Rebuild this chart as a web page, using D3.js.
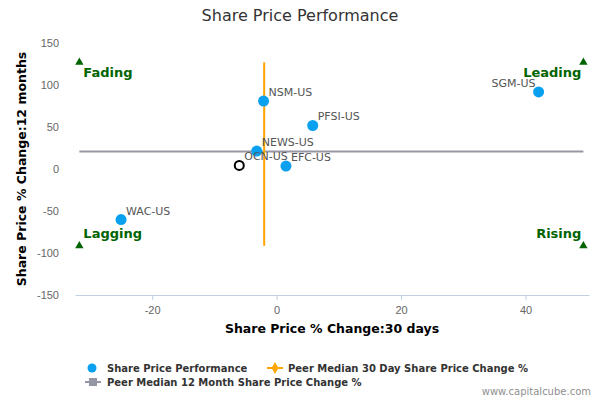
<!DOCTYPE html>
<html lang="en">
<head>
    <meta charset="UTF-8">
    <title>Share Price Performance</title>
    <script src="https://d3js.org/d3.v7.min.js"></script>
    <style>
        body { margin: 0; background: #fff; font-family: "DejaVu Sans", Arial, sans-serif; }
        svg { display: block; }
        .tick-label { font-size: 11px; fill: #666; }
        .axis-title { font-size: 12.5px; font-weight: bold; fill: #000; }
        .point-label { font-size: 11px; fill: #555; }
        .quadrant { font-size: 13px; font-weight: bold; fill: #006400; }
        .legend-text { font-size: 10px; font-weight: bold; fill: #333; }
    </style>
</head>
<body>
    <svg id="chart" width="600" height="400"></svg>
    <script>
        // peers: 30 day change (x) vs 12 month change (y)
        const tickers = ["NSM-US", "PFSI-US", "NEWS-US", "EFC-US", "SGM-US", "WAC-US"];
        const change30d = [-2.1, 5.8, -3.2, 1.5, 42.1, -25.0];
        const change12m = [80.9, 51.8, 21.3, 3.5, 91.7, -60.2];

        // the company itself (open circle)
        const company = "OCN-US";
        const company30d = -6.0;
        const company12m = 4.2;

        const median30d = -2.0;
        const median12m = 20.9;

        const xTicks = [-20, 0, 20, 40];
        const yTicks = [150, 100, 50, 0, -50, -100, -150];

        // corners where the quadrant triangles sit
        const cornerX = [-31.7, 49.3];
        const cornerY = [-91.5, 127];

        const svg = d3.select("#chart");
        const margin = { top: 43, right: 11, bottom: 105, left: 75 };
        const width = 600, height = 400;

        const x = d3.scaleLinear()
            .domain([-32.4, 50.2])
            .range([margin.left, width - margin.right]);
        const y = d3.scaleLinear()
            .domain([-150, 150])
            .range([height - margin.bottom, margin.top]);

        // title
        svg.append("text")
            .attr("x", 300).attr("y", 21)
            .attr("text-anchor", "middle")
            .style("font-size", "16px")
            .style("fill", "#333")
            .text("Share Price Performance");

        // x axis
        const xAxis = svg.append("g")
            .attr("transform", `translate(0,${y(-150)})`)
            .call(d3.axisBottom(x).tickValues(xTicks).tickFormat(d => String(d))
                .tickSize(5).tickSizeOuter(0).tickPadding(6));
        xAxis.select(".domain").attr("stroke", "#C0D0E0");
        xAxis.selectAll(".tick line").attr("stroke", "#C0D0E0");
        xAxis.selectAll(".tick text")
            .attr("class", "tick-label")
            .attr("font-family", null).attr("font-size", null).attr("fill", null);

        // y axis, labels only
        const yAxis = svg.append("g")
            .attr("transform", `translate(59,0)`)
            .call(d3.axisLeft(y).tickValues(yTicks).tickFormat(d => String(d))
                .tickSize(0).tickPadding(0));
        yAxis.select(".domain").remove();
        yAxis.selectAll(".tick text")
            .attr("class", "tick-label")
            .attr("dy", "0.35em")
            .attr("font-family", null).attr("font-size", null).attr("fill", null);

        svg.append("text")
            .attr("class", "axis-title")
            .attr("text-anchor", "middle")
            .attr("transform", `translate(26,${y(0)}) rotate(-90)`)
            .text("Share Price % Change:12 months");

        svg.append("text")
            .attr("class", "axis-title")
            .attr("text-anchor", "middle")
            .attr("x", (x.range()[0] + x.range()[1]) / 2)
            .attr("y", 333)
            .text("Share Price % Change:30 days");

        // median lines
        svg.append("line")
            .attr("x1", x(cornerX[0])).attr("x2", x(cornerX[1]))
            .attr("y1", y(median12m)).attr("y2", y(median12m))
            .attr("stroke", "#9598A4").attr("stroke-width", 2);

        svg.append("line")
            .attr("x1", x(median30d)).attr("x2", x(median30d))
            .attr("y1", y(cornerY[1])).attr("y2", y(cornerY[0]))
            .attr("stroke", "#FFA500").attr("stroke-width", 2);

        // quadrant triangles and labels
        const tri = d3.symbol().type(d3.symbolTriangle).size(30);
        const corners = [
            { cx: cornerX[0], cy: cornerY[1], name: "Fading", anchor: "start", dx: 4, dy: 15 },
            { cx: cornerX[1], cy: cornerY[1], name: "Leading", anchor: "end", dx: -2, dy: 15 },
            { cx: cornerX[0], cy: cornerY[0], name: "Lagging", anchor: "start", dx: 4, dy: -8 },
            { cx: cornerX[1], cy: cornerY[0], name: "Rising", anchor: "end", dx: -2, dy: -8 }
        ];
        svg.selectAll(".corner")
            .data(corners)
            .join("path")
            .attr("class", "corner")
            .attr("d", tri)
            .attr("fill", "#006400")
            .attr("transform", d => `translate(${x(d.cx)},${y(d.cy)})`);
        svg.selectAll(".quadrant")
            .data(corners)
            .join("text")
            .attr("class", "quadrant")
            .attr("text-anchor", d => d.anchor)
            .attr("x", d => x(d.cx) + d.dx)
            .attr("y", d => y(d.cy) + d.dy)
            .text(d => d.name);

        // peer points
        const peers = tickers.map((t, i) => ({ name: t, x: change30d[i], y: change12m[i] }));
        svg.selectAll(".peer")
            .data(peers)
            .join("circle")
            .attr("class", "peer")
            .attr("cx", d => x(d.x))
            .attr("cy", d => y(d.y))
            .attr("r", 5.5)
            .attr("fill", "#0AA0F0");
        svg.selectAll(".point-label.peer-label")
            .data(peers)
            .join("text")
            .attr("class", "point-label peer-label")
            .attr("text-anchor", d => d.name === "SGM-US" ? "end" : "start")
            .attr("x", d => d.name === "SGM-US" ? x(d.x) - 3 : x(d.x) + 5)
            .attr("y", d => y(d.y) - 5)
            .text(d => d.name);

        // the company
        svg.append("circle")
            .attr("cx", x(company30d)).attr("cy", y(company12m))
            .attr("r", 4.5)
            .attr("fill", "none")
            .attr("stroke", "#000").attr("stroke-width", 2);
        svg.append("text")
            .attr("class", "point-label")
            .attr("x", x(company30d) + 5)
            .attr("y", y(company12m) - 5)
            .text(company);

        // legend
        const lg = svg.append("g");
        lg.append("circle").attr("cx", 92).attr("cy", 368).attr("r", 4.5).attr("fill", "#0AA0F0");
        lg.append("text").attr("class", "legend-text").attr("x", 107).attr("y", 372).text("Share Price Performance");

        lg.append("line").attr("x1", 267).attr("x2", 283).attr("y1", 368).attr("y2", 368)
            .attr("stroke", "#FFA500").attr("stroke-width", 2);
        lg.append("path").attr("d", d3.symbol().type(d3.symbolDiamond).size(40))
            .attr("transform", "translate(275,368)").attr("fill", "#FFA500");
        lg.append("text").attr("class", "legend-text").attr("x", 288).attr("y", 372).text("Peer Median 30 Day Share Price Change %");

        lg.append("line").attr("x1", 85).attr("x2", 101).attr("y1", 382).attr("y2", 382)
            .attr("stroke", "#9598A4").attr("stroke-width", 2);
        lg.append("rect").attr("x", 89).attr("y", 378).attr("width", 8).attr("height", 8).attr("fill", "#9598A4");
        lg.append("text").attr("class", "legend-text").attr("x", 107).attr("y", 386).text("Peer Median 12 Month Share Price Change %");

        svg.append("text")
            .attr("x", 591).attr("y", 395)
            .attr("text-anchor", "end")
            .style("font-size", "10px")
            .style("fill", "#909090")
            .text("www.capitalcube.com");
    </script>
</body>
</html>
